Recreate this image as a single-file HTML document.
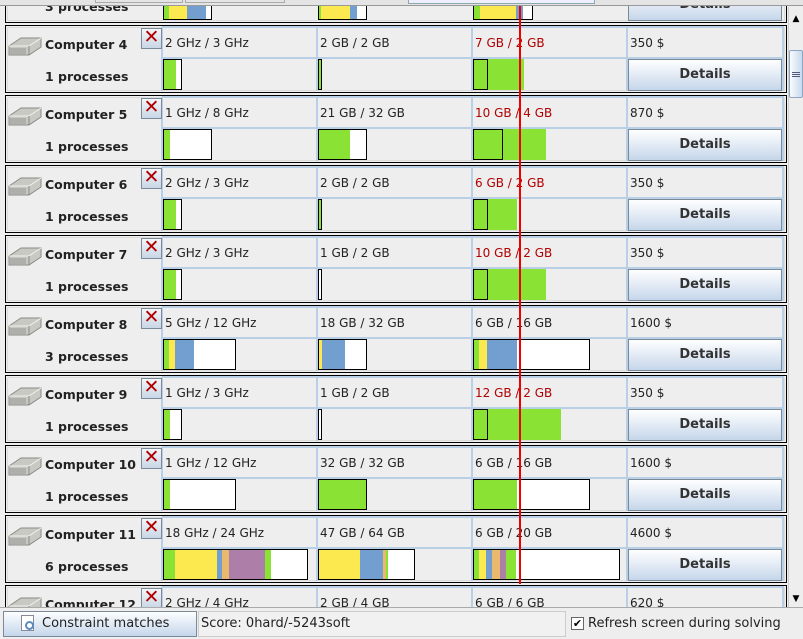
<!DOCTYPE html>
<html style="width:803px;height:639px;overflow:hidden"><head><meta charset="utf-8"><style>
*{margin:0;padding:0;box-sizing:border-box}
body{width:803px;height:639px;overflow:hidden;background:#eeeeee;font-family:"DejaVu Sans","Liberation Sans",sans-serif;position:relative}
.a{position:absolute}
.p{position:absolute;left:0;width:788px;height:70px}
.bx{position:absolute;left:5px;top:0;width:782px;height:68px;border:1px solid #000;background:#eeeeee}
.bx:after{content:"";position:absolute;left:1px;top:1px;right:1px;bottom:1px;border:1px solid #dcdcdc}
.vl{position:absolute;top:2px;height:64px;width:2px;background:#b8cfe5}
.hl{position:absolute;left:162px;width:622px;height:2px;background:#b8cfe5}
.ic{position:absolute;left:8px;top:8px;width:34px;height:26px}
.nm{position:absolute;left:45px;top:12px;font-weight:bold;font-size:12.5px;color:#222;white-space:nowrap}
.pr{position:absolute;left:45px;top:44px;font-weight:bold;font-size:12.5px;color:#222;white-space:nowrap}
.x{position:absolute;left:141px;top:3px;width:21px;height:21px;border:1px solid #7a8a99;background:linear-gradient(#f4f6f9,#c8d6e6);color:#b00000;font-size:19px;line-height:17px;text-align:center;font-weight:bold}
.t{position:absolute;top:11px;font-size:12px;color:#222;white-space:nowrap}
.r{color:#b00000}
.bar{position:absolute;top:34px;height:31px;border:1px solid #000;background:#fff}
.f{position:absolute;top:34px;height:31px}
.g{background:#8ae234}.y{background:#fce94f}.b{background:#729fcf}.o{background:#e9b96e}.u{background:#ad7fa8}
.btn{position:absolute;left:628px;top:34px;width:154px;height:32px;border:1px solid #7a8a99;background:linear-gradient(#fdfeff 0%,#eef3f9 30%,#c5d6ea 100%);font-weight:bold;font-size:13px;color:#333;text-align:center;line-height:30px}
</style></head><body>

<svg width="0" height="0" style="position:absolute"><defs>
<g id="srv"><path d="M1 13 L13 5 L33 5 L33 14 L21 22 L1 22 Z" fill="#c9c9c4" stroke="#8a8a86"/><path d="M1 13 L21 13 L33 5" fill="none" stroke="#f2f2ee"/><path d="M21 13 L21 22" stroke="#8a8a86"/><path d="M3 15v6M5 15v6M7 15v6M9 15v6M11 15v6M13 15v6M15 15v6M17 15v6" stroke="#888" stroke-width=".8"/></g>
</defs></svg>

<div class="p" style="top:-45px">
<div class="bx"></div>
<div class="pr">3 processes</div>
<div class="bar" style="left:163px;width:49px"></div><div class="f g" style="left:164px;width:5px;top:35px;height:29px"></div><div class="f y" style="left:169px;width:18px;top:35px;height:29px"></div><div class="f b" style="left:187px;width:19px;top:35px;height:29px"></div>
<div class="bar" style="left:318px;width:49px"></div><div class="f g" style="left:319px;width:2px;top:35px;height:29px"></div><div class="f y" style="left:321px;width:29px;top:35px;height:29px"></div><div class="f b" style="left:350px;width:7px;top:35px;height:29px"></div>
<div class="bar" style="left:473px;width:60px"></div><div class="f g" style="left:474px;width:6px;top:35px;height:29px"></div><div class="f y" style="left:480px;width:36px;top:35px;height:29px"></div><div class="f b" style="left:516px;width:7px;top:35px;height:29px"></div>
<div class="btn">Details</div>
</div>

<div class="p" style="top:25px"><div class="bx"></div>
<div class="vl" style="left:161px"></div><div class="vl" style="left:316px"></div><div class="vl" style="left:471px"></div><div class="vl" style="left:626px"></div><div class="vl" style="left:782px"></div><div class="hl" style="top:1px"></div><div class="hl" style="top:32px"></div>
<svg class="ic"><use href="#srv"/></svg><div class="nm">Computer 4</div><div class="pr">1 processes</div><div class="x">✕</div>
<div class="t" style="left:165px">2 GHz / 3 GHz</div><div class="t" style="left:320px">2 GB / 2 GB</div><div class="t r" style="left:475px">7 GB / 2 GB</div><div class="t" style="left:630px">350 $</div>
<div class="bar" style="left:163px;width:19px"></div><div class="f g" style="left:164px;width:12px;top:35px;height:29px"></div>
<div class="bar g" style="left:318px;width:4px"></div>
<div class="f g" style="left:473px;width:51px"></div><div class="bar" style="left:473px;width:15px;background:transparent"></div>
<div class="btn">Details</div></div>

<div class="p" style="top:95px"><div class="bx"></div>
<div class="vl" style="left:161px"></div><div class="vl" style="left:316px"></div><div class="vl" style="left:471px"></div><div class="vl" style="left:626px"></div><div class="vl" style="left:782px"></div><div class="hl" style="top:1px"></div><div class="hl" style="top:32px"></div>
<svg class="ic"><use href="#srv"/></svg><div class="nm">Computer 5</div><div class="pr">1 processes</div><div class="x">✕</div>
<div class="t" style="left:165px">1 GHz / 8 GHz</div><div class="t" style="left:320px">21 GB / 32 GB</div><div class="t r" style="left:475px">10 GB / 4 GB</div><div class="t" style="left:630px">870 $</div>
<div class="bar" style="left:163px;width:49px"></div><div class="f g" style="left:164px;width:6px;top:35px;height:29px"></div>
<div class="bar" style="left:318px;width:49px"></div><div class="f g" style="left:319px;width:31px;top:35px;height:29px"></div>
<div class="f g" style="left:473px;width:73px"></div><div class="bar" style="left:473px;width:30px;background:transparent"></div>
<div class="btn">Details</div></div>

<div class="p" style="top:165px"><div class="bx"></div>
<div class="vl" style="left:161px"></div><div class="vl" style="left:316px"></div><div class="vl" style="left:471px"></div><div class="vl" style="left:626px"></div><div class="vl" style="left:782px"></div><div class="hl" style="top:1px"></div><div class="hl" style="top:32px"></div>
<svg class="ic"><use href="#srv"/></svg><div class="nm">Computer 6</div><div class="pr">1 processes</div><div class="x">✕</div>
<div class="t" style="left:165px">2 GHz / 3 GHz</div><div class="t" style="left:320px">2 GB / 2 GB</div><div class="t r" style="left:475px">6 GB / 2 GB</div><div class="t" style="left:630px">350 $</div>
<div class="bar" style="left:163px;width:19px"></div><div class="f g" style="left:164px;width:12px;top:35px;height:29px"></div>
<div class="bar g" style="left:318px;width:4px"></div>
<div class="f g" style="left:473px;width:44px"></div><div class="bar" style="left:473px;width:15px;background:transparent"></div>
<div class="btn">Details</div></div>

<div class="p" style="top:235px"><div class="bx"></div>
<div class="vl" style="left:161px"></div><div class="vl" style="left:316px"></div><div class="vl" style="left:471px"></div><div class="vl" style="left:626px"></div><div class="vl" style="left:782px"></div><div class="hl" style="top:1px"></div><div class="hl" style="top:32px"></div>
<svg class="ic"><use href="#srv"/></svg><div class="nm">Computer 7</div><div class="pr">1 processes</div><div class="x">✕</div>
<div class="t" style="left:165px">2 GHz / 3 GHz</div><div class="t" style="left:320px">1 GB / 2 GB</div><div class="t r" style="left:475px">10 GB / 2 GB</div><div class="t" style="left:630px">350 $</div>
<div class="bar" style="left:163px;width:19px"></div><div class="f g" style="left:164px;width:12px;top:35px;height:29px"></div>
<div class="bar" style="left:318px;width:4px"></div>
<div class="f g" style="left:473px;width:73px"></div><div class="bar" style="left:473px;width:15px;background:transparent"></div>
<div class="btn">Details</div></div>

<div class="p" style="top:305px"><div class="bx"></div>
<div class="vl" style="left:161px"></div><div class="vl" style="left:316px"></div><div class="vl" style="left:471px"></div><div class="vl" style="left:626px"></div><div class="vl" style="left:782px"></div><div class="hl" style="top:1px"></div><div class="hl" style="top:32px"></div>
<svg class="ic"><use href="#srv"/></svg><div class="nm">Computer 8</div><div class="pr">3 processes</div><div class="x">✕</div>
<div class="t" style="left:165px">5 GHz / 12 GHz</div><div class="t" style="left:320px">18 GB / 32 GB</div><div class="t" style="left:475px">6 GB / 16 GB</div><div class="t" style="left:630px">1600 $</div>
<div class="bar" style="left:163px;width:73px"></div><div class="f g" style="left:164px;width:5px;top:35px;height:29px"></div><div class="f y" style="left:169px;width:6px;top:35px;height:29px"></div><div class="f b" style="left:175px;width:19px;top:35px;height:29px"></div>
<div class="bar" style="left:318px;width:49px"></div><div class="f y" style="left:319px;width:3px;top:35px;height:29px"></div><div class="f b" style="left:322px;width:23px;top:35px;height:29px"></div>
<div class="bar" style="left:473px;width:117px"></div><div class="f g" style="left:474px;width:5px;top:35px;height:29px"></div><div class="f y" style="left:479px;width:8px;top:35px;height:29px"></div><div class="f b" style="left:487px;width:30px;top:35px;height:29px"></div>
<div class="btn">Details</div></div>

<div class="p" style="top:375px"><div class="bx"></div>
<div class="vl" style="left:161px"></div><div class="vl" style="left:316px"></div><div class="vl" style="left:471px"></div><div class="vl" style="left:626px"></div><div class="vl" style="left:782px"></div><div class="hl" style="top:1px"></div><div class="hl" style="top:32px"></div>
<svg class="ic"><use href="#srv"/></svg><div class="nm">Computer 9</div><div class="pr">1 processes</div><div class="x">✕</div>
<div class="t" style="left:165px">1 GHz / 3 GHz</div><div class="t" style="left:320px">1 GB / 2 GB</div><div class="t r" style="left:475px">12 GB / 2 GB</div><div class="t" style="left:630px">350 $</div>
<div class="bar" style="left:163px;width:19px"></div><div class="f g" style="left:164px;width:6px;top:35px;height:29px"></div>
<div class="bar" style="left:318px;width:4px"></div>
<div class="f g" style="left:473px;width:88px"></div><div class="bar" style="left:473px;width:15px;background:transparent"></div>
<div class="btn">Details</div></div>

<div class="p" style="top:445px"><div class="bx"></div>
<div class="vl" style="left:161px"></div><div class="vl" style="left:316px"></div><div class="vl" style="left:471px"></div><div class="vl" style="left:626px"></div><div class="vl" style="left:782px"></div><div class="hl" style="top:1px"></div><div class="hl" style="top:32px"></div>
<svg class="ic"><use href="#srv"/></svg><div class="nm">Computer 10</div><div class="pr">1 processes</div><div class="x">✕</div>
<div class="t" style="left:165px">1 GHz / 12 GHz</div><div class="t" style="left:320px">32 GB / 32 GB</div><div class="t" style="left:475px">6 GB / 16 GB</div><div class="t" style="left:630px">1600 $</div>
<div class="bar" style="left:163px;width:73px"></div><div class="f g" style="left:164px;width:6px;top:35px;height:29px"></div>
<div class="bar g" style="left:318px;width:49px"></div>
<div class="bar" style="left:473px;width:117px"></div><div class="f g" style="left:474px;width:43px;top:35px;height:29px"></div>
<div class="btn">Details</div></div>

<div class="p" style="top:515px"><div class="bx"></div>
<div class="vl" style="left:161px"></div><div class="vl" style="left:316px"></div><div class="vl" style="left:471px"></div><div class="vl" style="left:626px"></div><div class="vl" style="left:782px"></div><div class="hl" style="top:1px"></div><div class="hl" style="top:32px"></div>
<svg class="ic"><use href="#srv"/></svg><div class="nm">Computer 11</div><div class="pr">6 processes</div><div class="x">✕</div>
<div class="t" style="left:165px">18 GHz / 24 GHz</div><div class="t" style="left:320px">47 GB / 64 GB</div><div class="t" style="left:475px">6 GB / 20 GB</div><div class="t" style="left:630px">4600 $</div>
<div class="bar" style="left:163px;width:145px"></div><div class="f g" style="left:164px;width:11px;top:35px;height:29px"></div><div class="f y" style="left:175px;width:42px;top:35px;height:29px"></div><div class="f b" style="left:217px;width:5px;top:35px;height:29px"></div><div class="f o" style="left:222px;width:7px;top:35px;height:29px"></div><div class="f u" style="left:229px;width:36px;top:35px;height:29px"></div><div class="f g" style="left:265px;width:6px;top:35px;height:29px"></div>
<div class="bar" style="left:318px;width:97px"></div><div class="f y" style="left:319px;width:41px;top:35px;height:29px"></div><div class="f b" style="left:360px;width:23px;top:35px;height:29px"></div><div class="f o" style="left:383px;width:3px;top:35px;height:29px"></div><div class="f g" style="left:386px;width:2px;top:35px;height:29px"></div>
<div class="bar" style="left:473px;width:147px"></div><div class="f g" style="left:474px;width:5px;top:35px;height:29px"></div><div class="f y" style="left:479px;width:7px;top:35px;height:29px"></div><div class="f b" style="left:486px;width:6px;top:35px;height:29px"></div><div class="f o" style="left:492px;width:8px;top:35px;height:29px"></div><div class="f u" style="left:500px;width:6px;top:35px;height:29px"></div><div class="f g" style="left:506px;width:10px;top:35px;height:29px"></div>
<div class="btn">Details</div></div>

<div class="p" style="top:585px;height:22px;overflow:hidden"><div class="bx"></div>
<div class="vl" style="left:161px"></div><div class="vl" style="left:316px"></div><div class="vl" style="left:471px"></div><div class="vl" style="left:626px"></div><div class="vl" style="left:782px"></div><div class="hl" style="top:1px"></div>
<svg class="ic"><use href="#srv"/></svg><div class="nm">Computer 12</div><div class="x">✕</div>
<div class="t" style="left:165px">2 GHz / 4 GHz</div><div class="t" style="left:320px">2 GB / 4 GB</div><div class="t" style="left:475px">6 GB / 6 GB</div><div class="t" style="left:630px">620 $</div>
</div>

<div class="a" style="left:519px;top:6px;width:2px;height:578px;background:#ee0000"></div>

<div class="a" style="left:0;top:0;width:803px;height:6px;background:#e4e4e4;border-bottom:1px solid #999"></div>
<div class="a" style="left:95px;top:0;width:88px;height:3px;border:1px solid #aaa;border-top:none"></div>
<div class="a" style="left:185px;top:0;width:100px;height:3px;border:1px solid #aaa;border-top:none"></div>
<div class="a" style="left:408px;top:0;width:187px;height:4px;border:1px solid #8aa;border-top:none;background:#eef"></div>

<div class="a" style="left:788px;top:7px;width:15px;height:600px;background:#eeeeee;border-left:1px solid #ccc"></div>
<div class="a" style="left:789px;top:12px;width:14px;height:14px;font-size:9px;text-align:center;line-height:14px">▲</div>
<div class="a" style="left:789px;top:50px;width:14px;height:48px;border:1px solid #8da6c2;background:linear-gradient(90deg,#f8fbff,#c9d9ec);border-radius:2px"></div>
<div class="a" style="left:792px;top:72px;width:8px;height:1px;background:#557"></div>
<div class="a" style="left:792px;top:74px;width:8px;height:1px;background:#557"></div>
<div class="a" style="left:792px;top:76px;width:8px;height:1px;background:#557"></div>
<div class="a" style="left:789px;top:592px;width:14px;height:14px;font-size:9px;text-align:center;line-height:14px">▼</div>

<div class="a" style="left:0;top:607px;width:803px;height:32px;background:#eeeeee;border-top:1px solid #aaa"></div>
<div class="a" style="left:3px;top:611px;width:194px;height:26px;border:1px solid #7a8a99;background:linear-gradient(#fdfeff,#e6eef7 40%,#c5d6ea);font-size:13px;line-height:24px;padding-left:38px;color:#222;white-space:nowrap">Constraint matches</div>
<div class="a" style="left:21px;top:615px;width:13px;height:16px;border:1px solid #889;background:#fff"></div>
<div class="a" style="left:25px;top:621px;width:9px;height:9px;border:2px solid #5a8ac0;border-radius:50%"></div>
<div class="a" style="left:198px;top:611px;width:368px;height:26px;border:1px solid #ccc;background:#f1f1f1;font-size:13px;line-height:24px;padding-left:2px;color:#222">Score: 0hard/-5243soft</div>
<div class="a" style="left:571px;top:617px;width:13px;height:13px;border:1px solid #666;background:#fff;font-size:11px;line-height:11px;text-align:center">✔</div>
<div class="a" style="left:588px;top:611px;font-size:13px;line-height:26px;color:#222;white-space:nowrap">Refresh screen during solving</div>
</body></html>
